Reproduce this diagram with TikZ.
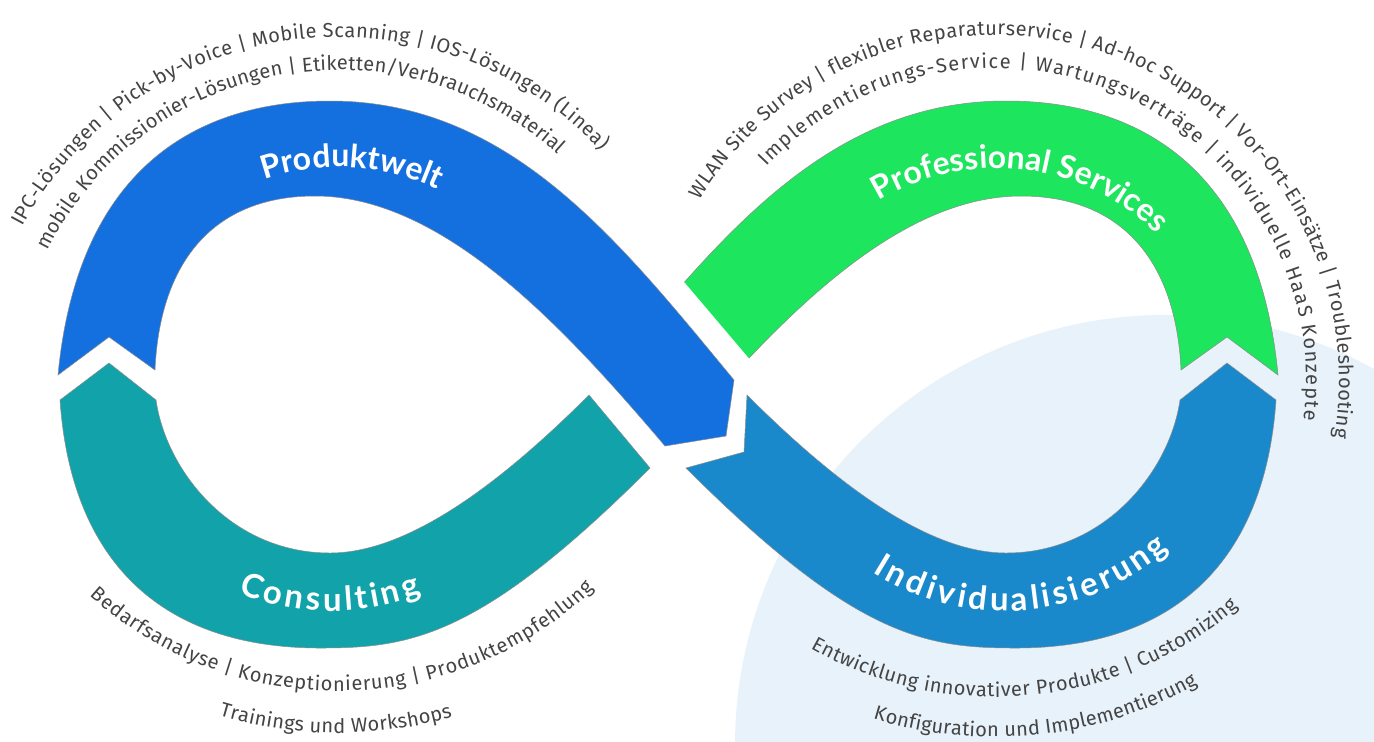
\documentclass[tikz,border=0pt]{standalone}
\usepackage{fontspec}
\usepackage{tikz}
\usetikzlibrary{decorations.text}
\newfontfamily\outerfont{Fira Sans}
\newfontfamily\titlefont{Lato}
\definecolor{pwblue}{HTML}{1570DF}
\definecolor{psgreen}{HTML}{1DE55E}
\definecolor{csteal}{HTML}{12A3AA}
\definecolor{indblue}{HTML}{1A89CB}
\definecolor{bgcircle}{HTML}{E8F2FA}
\definecolor{txtgray}{HTML}{444444}
\tikzset{
  band/.style={draw=black!45, line width=0.25pt},
  outerline/.style={decorate, decoration={text along path, text format delimiters={[}{]},
    text align=fit to path, text={[\outerfont\fontsize{10}{12}\selectfont\color{txtgray}]#1}}},
  bandtitle/.style={decorate, decoration={text along path, text format delimiters={[}{]},
    text align=center, text={[\titlefont\bfseries\fontsize{16}{18}\selectfont\color{white}]#1}}},
  widetitle/.style={decorate, decoration={text along path, text format delimiters={[}{]},
    text align=fit to path, text={[\titlefont\bfseries\fontsize{16.5}{18}\selectfont\color{white}]#1}}}
}

\begin{document}
\begin{tikzpicture}[x=0.5pt, y=0.5pt]
        \useasboundingbox (0,0) rectangle (1374,-741);
        \clip (0,0) rectangle (1374,-741);
        \fill[white] (0,0) rectangle (1374,-741);
        \fill[bgcircle] (1165,-745) circle[radius=430];

        % Produktwelt
        \draw[band, fill=pwblue] (58,-375) -- (109,-337) -- (155,-370)
            .. controls (160,-260) and (215,-196) .. (315,-196)
            .. controls (445,-196) and (568,-332) .. (665,-446)
            -- (726,-436) -- (734,-380)
            .. controls (619,-241) and (510,-101) .. (330,-101)
            .. controls (190,-101) and (77,-175) .. (58,-375) -- cycle;

        % Professional Services: mirror of the upper left band, cut before the centre
        \begin{scope}[shift={(1336,0)}, xscale=-1]
            \clip (-100,100) -- (976,100) -- (212,-800) -- (-100,-800) -- cycle;
            \draw[band, fill=psgreen] (58,-375) -- (109,-337) -- (155,-370)
                .. controls (160,-260) and (215,-196) .. (315,-196)
                .. controls (445,-196) and (568,-332) .. (665,-446)
                -- (726,-436) -- (734,-380)
                .. controls (619,-241) and (510,-101) .. (330,-101)
                .. controls (190,-101) and (77,-175) .. (58,-375) -- cycle;
        \end{scope}

        % Consulting
        \draw[band, fill=csteal] (109,-363) -- (156,-400)
            .. controls (166,-470) and (230,-553) .. (330,-553)
            .. controls (410,-553) and (504,-480) .. (589,-395)
            -- (650,-468)
            .. controls (480,-638) and (410,-648) .. (320,-648)
            .. controls (160,-648) and (71,-560) .. (60,-400) -- cycle;

        % Individualisierung: mirror of Consulting, with a notch at the centre
        \begin{scope}[shift={(1336,0)}, xscale=-1]
            \draw[band, fill=indblue] (109,-363) -- (156,-400)
                .. controls (166,-470) and (230,-553) .. (330,-553)
                .. controls (410,-553) and (504,-480) .. (589,-395)
                -- (592,-452) -- (650,-468)
                .. controls (480,-638) and (410,-648) .. (320,-648)
                .. controls (160,-648) and (71,-560) .. (60,-400) -- cycle;
        \end{scope}

        % titles in the bands
        \path[bandtitle=Produktwelt] (339,-395) ++(126.75:228) arc[start angle=126.75, end angle=46.75, radius=228];
        \path[bandtitle=Professional Services] (997,-395) ++(133.25:227) arc[start angle=133.25, end angle=33.25, radius=227];
        \path[widetitle=Consulting] (331,-363) ++(-112:248) arc[start angle=-112, end angle=-68.6, radius=248];
        \path[widetitle=Individualisierung] (1005,-363) ++(-122.3:248) arc[start angle=-122.3, end angle=-48.6, radius=248];

        % texts round the loops
        \path[outerline={IPC-Lösungen | Pick-by-Voice | Mobile Scanning | IOS-Lösungen (Linea)}]
            (339,-395) ++(152:358) arc[start angle=152, end angle=43, radius=358];
        \path[outerline={mobile Kommissionier-Lösungen | Etiketten/Verbrauchsmaterial}]
            (339,-395) ++(153.7:325) arc[start angle=153.7, end angle=47.7, radius=325];
        \path[outerline={WLAN Site Survey | flexibler Reparaturservice | Ad-hoc Support | Vor-Ort-Einsätze | Troubleshooting}]
            (994,-380) ++(148.6:345) arc[start angle=148.6, end angle=-9.5, radius=345];
        \path[outerline={Implementierungs-Service | Wartungsverträge | individuelle HaaS Konzepte}]
            (994,-380) ++(136.8:312) arc[start angle=136.8, end angle=-7.3, radius=312];
        \path[outerline={Bedarfsanalyse | Konzeptionierung | Produktempfehlung}]
            (338,-319) ++(-131.9:372) arc[start angle=-131.9, end angle=-46.6, radius=372];
        \path[outerline={Trainings und Workshops}]
            (338,-319) ++(-106.7:414) arc[start angle=-106.7, end angle=-73.9, radius=414];
        \path[outerline={Entwicklung innovativer Produkte | Customizing}]
            (995,-322) ++(-119.5:375) arc[start angle=-119.5, end angle=-49.6, radius=375];
        \path[outerline={Konfiguration und Implementierung}]
            (995,-322) ++(-107.1:415) arc[start angle=-107.1, end angle=-60.8, radius=415];
\end{tikzpicture}
\end{document}
